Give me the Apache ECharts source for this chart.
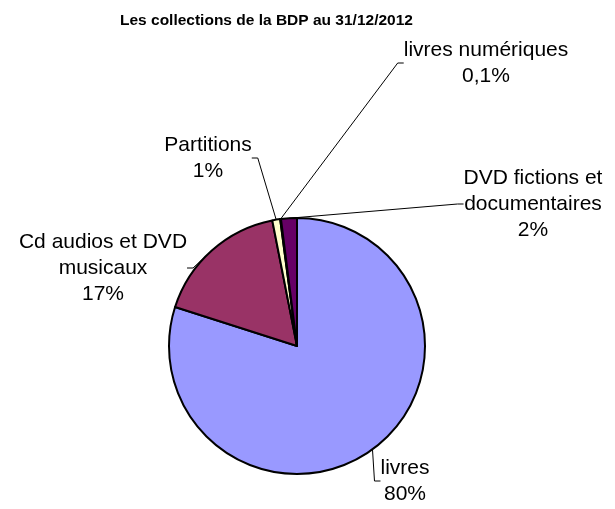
<!DOCTYPE html>
<html>
<head>
<meta charset="utf-8">
<script src="https://cdn.jsdelivr.net/npm/echarts@6/dist/echarts.min.js"></script>
<style>html,body{margin:0;padding:0;background:#fff;}#c{width:615px;height:509px;}</style>
</head>
<body>
<div id="c"></div>
<script>
const titleText = 'Les collections de la BDP au 31/12/2012';
const categories = ['livres', 'Cd audios et DVD\nmusicaux', 'Partitions', 'livres numériques', 'DVD fictions et\ndocumentaires'];
const values = [80, 17, 1, 0.1, 2];
const colors = ['#9999FF', '#993366', '#FFFFCC', '#CCFFFF', '#660066'];
// label placement (centre of each label block)
const labelPos = [[405, 481], [103, 268], [208, 158], [486, 63], [533, 204]];

const chart = echarts.init(document.getElementById('c'), null, {renderer: 'canvas'});
const font = "'Liberation Sans', Arial, sans-serif";
chart.setOption({
  animation: false,
  title: {
    text: titleText,
    left: 115, top: 8,
    textStyle: {fontFamily: font, fontSize: 15.5, fontWeight: 'bold', color: '#000'}
  },
  series: [{
    type: 'pie',
    center: [297, 346],
    radius: 128,
    startAngle: 90,
    clockwise: true,
    avoidLabelOverlap: false,
    minAngle: 0,
    data: categories.map((c, i) => ({name: c, value: values[i], itemStyle: {color: colors[i]}})),
    itemStyle: {borderColor: '#000', borderWidth: 2},
    label: {
      show: true,
      position: 'outside',
      fontFamily: font,
      fontSize: 21,
      lineHeight: 26,
      color: '#000',
      align: 'center',
      formatter: p => p.name + '\n' + String(p.value).replace('.', ',') + '%'
    },
    labelLine: {show: true, length: 10, length2: 6, lineStyle: {color: '#000', width: 1}},
    labelLayout: p => ({
      x: labelPos[p.dataIndex][0],
      y: labelPos[p.dataIndex][1],
      align: 'center',
      verticalAlign: 'middle'
    }),
    emphasis: {disabled: true}
  }]
});
</script>
</body>
</html>
